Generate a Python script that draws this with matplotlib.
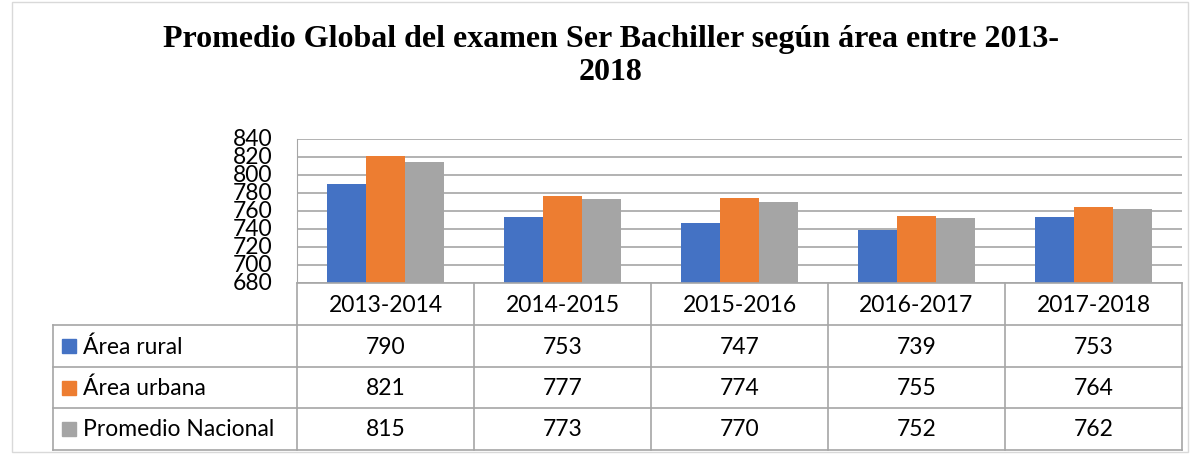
import matplotlib
matplotlib.use("Agg")
import matplotlib.pyplot as plt
from matplotlib.patches import Rectangle
import numpy as np

# Data
periods = ["2013-2014", "2014-2015", "2015-2016", "2016-2017", "2017-2018"]
series_names = ["Área rural", "Área urbana", "Promedio Nacional"]
rural = [790, 753, 747, 739, 753]
urbana = [821, 777, 774, 755, 764]
nacional = [815, 773, 770, 752, 762]
colors = ["#4472C4", "#ED7D31", "#A5A5A5"]
yticks = list(range(680, 841, 20))

W, H = 1198, 454
fig = plt.figure(figsize=(W / 100, H / 100), dpi=100)
font = "Lato"
fsize = 16.5

def fx(px):
    return px / W

def fy(py):
    return 1 - py / H

# outer frame
fig.patches.append(Rectangle((fx(12), fy(452)), fx(1188) - fx(12), fy(2) - fy(452),
                             transform=fig.transFigure, fill=False, ec="#d9d9d9", lw=1))

fig.text(fx(611), fy(40), "Promedio Global del examen Ser Bachiller según área entre 2013-",
         ha="center", va="center", family="Liberation Serif", weight="bold", fontsize=23)
fig.text(fx(611), fy(73), "2018", ha="center", va="center",
         family="Liberation Serif", weight="bold", fontsize=23)

# plot area
left, right, top, bottom = 297, 1182, 139, 283
ax = fig.add_axes([fx(left), fy(bottom), fx(right) - fx(left), fy(top) - fy(bottom)])
x = np.arange(len(periods))
bw = 0.22
for i, vals in enumerate([rural, urbana, nacional]):
    ax.bar(x + (i - 1) * bw, vals, width=bw, color=colors[i], zorder=3)
ax.set_xlim(-0.5, len(periods) - 0.5)
ax.set_ylim(680, 840)
ax.set_yticks(yticks)
ax.set_yticklabels([str(t) for t in yticks], family=font, fontsize=fsize)
ax.tick_params(axis="y", length=0, pad=18)
ax.set_xticks([])
ax.grid(axis="y", color="#a6a6a6", lw=1.2, zorder=0)
for s in ["top", "right", "bottom"]:
    ax.spines[s].set_visible(False)
ax.spines["left"].set_color("#a6a6a6")
for lbl in ax.get_yticklabels():
    lbl.set_va("center")

# data table
tab = fig.add_axes([0, 0, 1, 1])
tab.set_xlim(0, W)
tab.set_ylim(H, 0)
tab.axis("off")
line_c = "#a6a6a6"
col_w = (right - left) / len(periods)
row_tops = [283, 325, 367, 408, 450]
label_left = 53

# grid lines of the table
tab.plot([left, right], [row_tops[0], row_tops[0]], color=line_c, lw=1.2)
for j in range(len(periods) + 1):
    xx = left + j * col_w
    tab.plot([xx, xx], [row_tops[0], row_tops[-1]], color=line_c, lw=1.2)
tab.plot([label_left, label_left], [row_tops[1], row_tops[-1]], color=line_c, lw=1.2)
for r in row_tops[1:]:
    tab.plot([label_left, right], [r, r], color=line_c, lw=1.2)

for j, p in enumerate(periods):
    tab.text(left + (j + 0.5) * col_w, (row_tops[0] + row_tops[1]) / 2 + 1, p,
             ha="center", va="center", family=font, fontsize=fsize)

for i, (name, vals) in enumerate(zip(series_names, [rural, urbana, nacional])):
    yc = (row_tops[i + 1] + row_tops[i + 2]) / 2
    tab.add_patch(Rectangle((62, yc - 7), 14, 14, color=colors[i]))
    tab.text(83, yc + 1, name, ha="left", va="center", family=font, fontsize=fsize)
    for j, v in enumerate(vals):
        tab.text(left + (j + 0.5) * col_w, yc + 1, str(v),
                 ha="center", va="center", family=font, fontsize=fsize)

fig.savefig("out.png", dpi=100)
